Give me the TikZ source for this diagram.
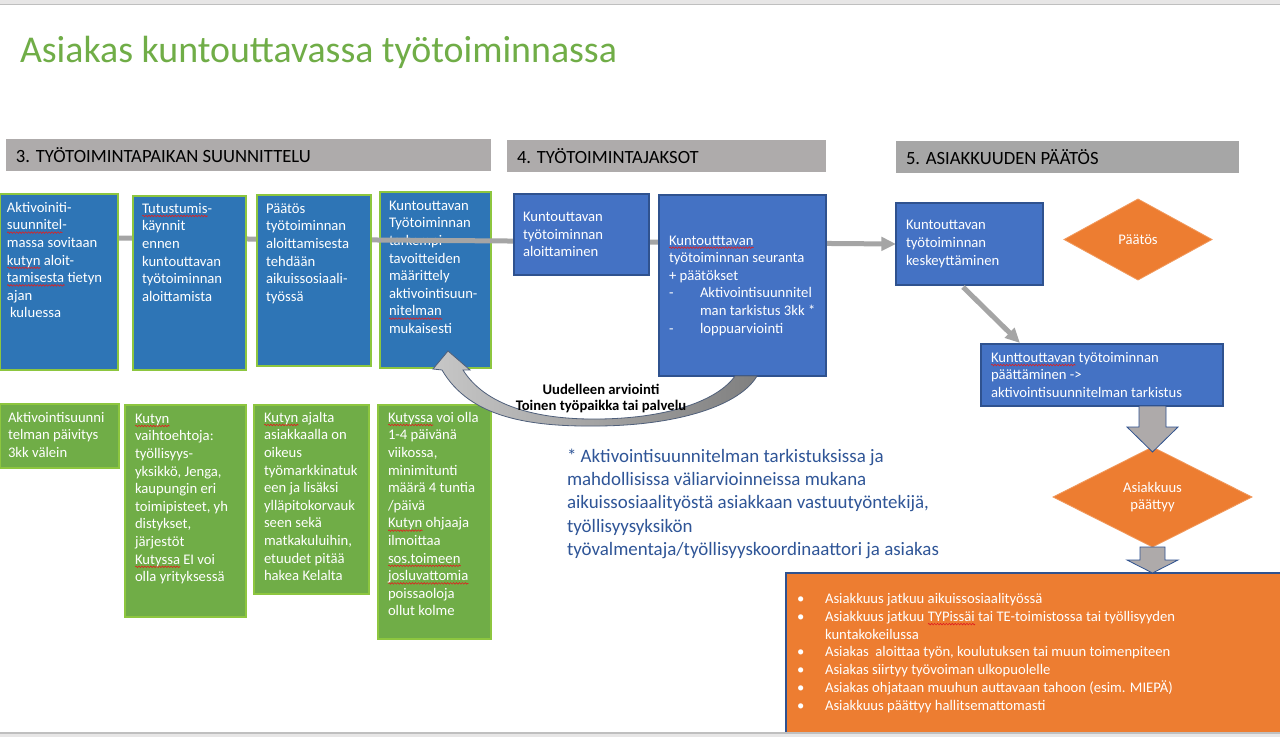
\documentclass[tikz,border=0pt]{standalone}
\usepackage{fontspec}
\setmainfont{Carlito}
\usetikzlibrary{shapes.geometric,arrows.meta,calc,decorations.pathmorphing}
\pgfdeclarelayer{back}
\pgfdeclarelayer{mid}
\pgfsetlayers{back,mid,main}
\newdimen\pxu \pxu=0.75pt
\newdimen\sqw
\newsavebox\sqbox
\definecolor{blueA}{HTML}{2E75B6}
\definecolor{limeE}{HTML}{8DC63F}
\definecolor{greenG}{HTML}{70AD47}
\definecolor{blueB}{HTML}{4472C4}
\definecolor{blueE}{HTML}{2F528F}
\definecolor{orangeO}{HTML}{ED7D31}
\definecolor{orangeL}{HTML}{F19A5E}
\definecolor{hdrA}{HTML}{AEABAB}
\definecolor{hdrB}{HTML}{A6A6A6}
\definecolor{lineG}{HTML}{A5A5A5}
\definecolor{arrowG}{HTML}{AEAAAA}
\definecolor{noteBlue}{HTML}{2F5597}
\definecolor{titleG}{HTML}{70AD47}
\definecolor{stripG}{HTML}{E7E6E6}
\definecolor{stripL}{HTML}{BFBFBF}
\definecolor{ribbonE}{HTML}{4F5F7A}
\definecolor{squig}{HTML}{E02020}
% spell-check squiggle under a word
\newcommand\sq[1]{\leavevmode\sbox\sqbox{#1}\sqw=\wd\sqbox\rlap{\tikz[baseline=0pt,x=1pt,y=1pt]\draw[squig,line width=0.45pt,decorate,decoration={zigzag,segment length=2.2pt,amplitude=0.6pt}] (0,-2) -- (\sqw,-2);}\usebox\sqbox}
% top aligned box: width height padL padT text
\newcommand\tbox[5]{\parbox[c][#2\pxu][t]{#1\pxu}{\vspace*{#4\pxu}\leftskip=#3\pxu\rightskip=0pt plus 1fil\parindent=0pt\strut #5}}
% vertically centred box: width height padL text
\newcommand\cbox[4]{\parbox[c][#2\pxu][c]{#1\pxu}{\leftskip=#3\pxu\rightskip=0pt plus 1fil\parindent=0pt #4}}
\newcommand\itm[1]{\par\hangindent=28\pxu\hangafter=1\noindent\makebox[28\pxu][l]{•}#1}
\begin{document}
\begin{tikzpicture}[x=0.75pt,y=-0.75pt,
  every node/.style={font=\fontsize{11}{13.2}\selectfont, inner sep=0pt, outer sep=0pt},
  boxa/.style={draw=limeE, line width=0.8pt, fill=blueA, text=white, anchor=north west},
  boxg/.style={draw=limeE, line width=0.8pt, fill=greenG, text=white, anchor=north west},
  boxb/.style={draw=blueE, line width=0.8pt, fill=blueB, text=white, anchor=north west},
  boxo/.style={fill=orangeO, text=white, anchor=north west},
  hdr/.style={fill=#1, anchor=north west, font=\fontsize{14}{16}\selectfont, text=black, inner xsep=10\pxu, minimum height=32\pxu},
  dia/.style={diamond, aspect=2, fill=orangeO, draw=orangeL, line width=0.6pt, text=white, align=center},
  conn/.style={draw=lineG, line width=3.75pt, -{Triangle[length=11pt,width=10pt]}},
  barrow/.style={fill=arrowG, draw=blueE, line width=0.6pt},
  ribbon/.style={left color=black!22, right color=black!50, draw=ribbonE, line width=0.6pt}
]
\useasboundingbox (0,0) rectangle (1280,737);
\begin{pgfonlayer}{back}
\fill[white] (0,0) rectangle (1280,737);
\end{pgfonlayer}
% window strips
\fill[stripG] (0,0) rectangle (1280,4);
\draw[stripL, line width=0.8pt] (0,4.5) -- (1280,4.5);

% title
\node[anchor=base west, text=titleG, font=\fontsize{28.4}{34}\selectfont] (title) at (20,63) {Asiakas kuntouttavassa työtoiminnassa};

% headers
\node[hdr=hdrA] (h3) at (6,139) {\makebox[465\pxu][l]{3. TYÖTOIMINTAPAIKAN SUUNNITTELU}};
\node[hdr=hdrA] (h4) at (507,140) {\makebox[299\pxu][l]{4. TYÖTOIMINTAJAKSOT}};
\node[hdr=hdrB] (h5) at (896,141) {\makebox[323\pxu][l]{5. ASIAKKUUDEN PÄÄTÖS}};

% section 3 boxes
\node[boxa] (a1) at (0,194) {\tbox{118}{176}{7}{6}{Aktivoiniti-\\\sq{suunnitel}-\\massa sovitaan\\\sq{kutyn} aloit-\\\sq{tamisesta} tietyn\\ajan\\\hspace*{3\pxu}kuluessa}};
\node[boxa] (a2) at (133,196) {\tbox{113}{174}{9}{5}{\sq{Tutustumis}-\\käynnit\\ennen\\kuntouttavan\\työtoiminnan\\aloittamista}};
\node[boxa] (a3) at (257,195) {\tbox{114}{171}{9}{6}{Päätös\\työtoiminnan\\aloittamisesta\\tehdään\\aikuissosiaali-\\työssä}};
\begin{pgfonlayer}{back}
\node[boxa] (a4) at (380,192) {\tbox{111}{176}{9}{6}{Kuntouttavan\\Työtoiminnan\\tarkempi\\tavoitteiden\\määrittely\\aktivointisuun-\\\sq{nitelman}\\mukaisesti}};
\end{pgfonlayer}

% green boxes
\node[boxg] (g1) at (0,404) {\tbox{119}{64}{8}{6}{Aktivointisuunni\\telman päivitys\\3kk välein}};
\node[boxg] (g2) at (125,405) {\tbox{121}{212}{10}{6}{\sq{Kutyn}\\vaihtoehtoja:\\työllisyys-\\yksikkö, Jenga,\\kaupungin eri\\toimipisteet, yh\\distykset,\\järjestöt\\\sq{Kutyssa} EI voi\\olla yrityksessä}};
\node[boxg] (g3) at (254,405) {\tbox{115}{189}{10}{5}{\sq{Kutyn} ajalta\\asiakkaalla on\\oikeus\\työmarkkinatuk\\een ja lisäksi\\ylläpitokorvauk\\seen sekä\\matkakuluihin,\\etuudet pitää\\hakea Kelalta}};
\node[boxg] (g4) at (378,405) {\tbox{113}{234}{10}{5}{\sq{Kutyssa} voi olla\\1-4 päivänä\\viikossa,\\minimitunti\\määrä 4 tuntia\\/päivä\\\sq{Kutyn} ohjaaja\\ilmoittaa\\\sq{sos.toimeen}\\\sq{josluvattomia}\\poissaoloja\\ollut kolme}};

% section 4 boxes
\node[boxb] (b1) at (514,194) {\cbox{135}{81}{9}{Kuntouttavan\\työtoiminnan\\aloittaminen}};
\node[boxb] (b2) at (659,195) {\cbox{167}{181}{10}{\sq{Kuntoutttavan}\\työtoiminnan seuranta\\+ päätökset\\\makebox[31\pxu][l]{-}Aktivointisuunnitel\\\hspace*{31\pxu}man tarkistus 3kk *\\\makebox[31\pxu][l]{-}loppuarviointi}};

% section 5
\node[boxb] (k1) at (896,203) {\cbox{147}{82}{10}{Kuntouttavan\\työtoiminnan\\keskeyttäminen}};
\node[dia, minimum width=148\pxu, minimum height=81\pxu] (d1) at (1138,239.5) {Päätös};
\node[boxb] (k2) at (981,344) {\cbox{242}{62}{10}{\sq{Kunttouttavan} työtoiminnan\\päättäminen ->\\aktivointisuunnitelman tarkistus}};
\node[dia, minimum width=199\pxu, minimum height=100\pxu] (d2) at (1152.5,497) {Asiakkuus\\päättyy};
\node[boxo, font=\fontsize{11}{13.3}\selectfont] (res) at (786,573) {\cbox{540}{160}{11}{%
\itm{Asiakkuus jatkuu aikuissosiaalityössä}%
\itm{Asiakkuus jatkuu \sq{TYPissäi} tai TE-toimistossa tai työllisyyden\\kuntakokeilussa}%
\itm{Asiakas\ \ aloittaa työn, koulutuksen tai muun toimenpiteen}%
\itm{Asiakas siirtyy työvoiman ulkopuolelle}%
\itm{Asiakas ohjataan muuhun auttavaan tahoon (esim. MIEPÄ)}%
\itm{Asiakkuus päättyy hallitsemattomasti}}};
\draw[blueE, line width=0.8pt] (res.north east) -- (res.north west) -- (res.south west) -- (res.south east);

% bottom strip
\fill[stripG] (0,733) rectangle (1280,737);
\draw[stripL, line width=0.8pt] (0,733) -- (1280,733);

% main gray connector
\begin{pgfonlayer}{mid}
\draw[conn] ($(a1.north east)+(0,44)$) -- (k1.west);
\end{pgfonlayer}
\draw[conn] ($(k1.south west)+(67,2)$) -- ($(k2.north west)+(39,-1)$);

% block arrows
\coordinate (ba) at (d2.north |- k2.south);
\draw[barrow] ($(ba)+(-13.5,0)$) -- ($(ba)+(-13.5,21)$) -- ($(ba)+(-25.5,21)$) -- ($(ba)+(0,46)$) -- ($(ba)+(25.5,21)$) -- ($(ba)+(13.5,21)$) -- ($(ba)+(13.5,0)$) -- cycle;
\coordinate (bb) at (d2.south);
\draw[barrow] ($(bb)+(-12.5,0)$) -- ($(bb)+(-12.5,13)$) -- ($(bb)+(-25.5,13)$) -- ($(bb)+(0,26)$) -- ($(bb)+(25.5,13)$) -- ($(bb)+(12.5,13)$) -- ($(bb)+(12.5,0)$) -- cycle;

% curved return arrow from b2 to a4
\coordinate (rvO) at ($(b2.south west)+(98,0)$);
\coordinate (rvI) at ($(b2.south west)+(76,0)$);
\coordinate (rvT) at ($(a4.south west)+(68,-17)$);
\path[ribbon] ($(a4.south west)+(62,2)$) .. controls (470,418) and (530,427) .. (600,426) .. controls (680,425) and (740,405) .. (rvO) -- (rvI) .. controls (718,400) and (670,418) .. (600,419) .. controls (535,420) and (485,405) .. ($(a4.south west)+(83,2)$) -- ($(a4.south west)+(90,2)$) -- (rvT) -- ($(a4.south west)+(53,1)$) -- cycle;
\node[anchor=base, font=\bfseries\fontsize{11}{12}\selectfont] (lbl) at (601,395) {\parbox[t]{200\pxu}{\centering Uudelleen arviointi\\Toinen työpaikka tai palvelu}};

% note
\node[anchor=base west, text=noteBlue, font=\fontsize{14.2}{17.5}\selectfont] (note) at (567,462) {\parbox[t]{430\pxu}{\raggedright * Aktivointisuunnitelman tarkistuksissa ja\\mahdollisissa väliarvioinneissa mukana\\aikuissosiaalityöstä asiakkaan vastuutyöntekijä,\\työllisyysyksikön\\työvalmentaja/työllisyyskoordinaattori ja asiakas}};
\end{tikzpicture}
\end{document}
